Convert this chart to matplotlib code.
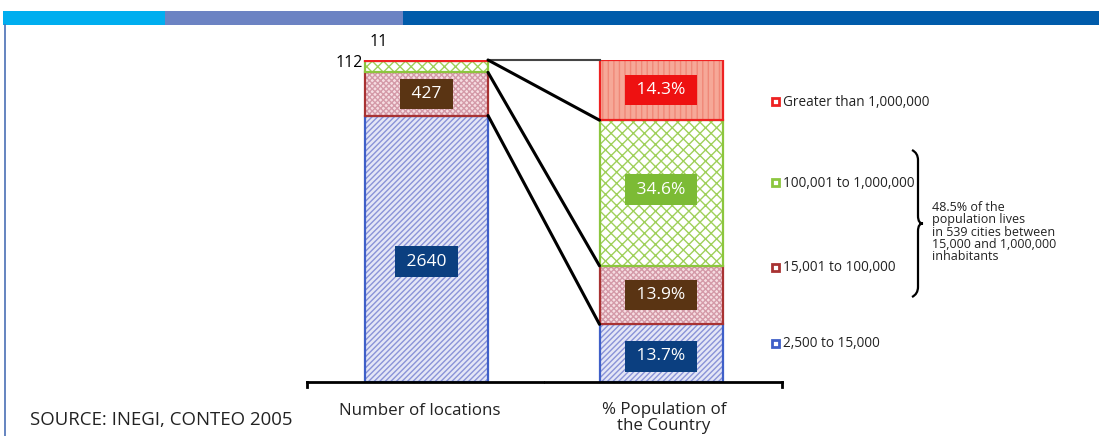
import matplotlib
matplotlib.use("Agg")
import matplotlib.pyplot as plt
from matplotlib.patches import Rectangle, PathPatch
from matplotlib.path import Path
import numpy as np

plt.rcParams["font.family"] = ["Open Sans", "DejaVu Sans"]
plt.rcParams["hatch.linewidth"] = 1.0

# ── Data (bottom to top) ──────────────────────────────────────────────
categories  = ["2,500 to 15,000", "15,001 to 100,000",
               "100,001 to 1,000,000", "Greater than 1,000,000"]
n_locations = [2640, 427, 112, 11]
pct_pop     = [13.7, 13.9, 34.6, 14.3]
pct_labels  = ["13.7%", "13.9%", "34.6%", "14.3%"]
bar_names   = ["Number of locations", "% Population of\nthe Country"]

# ── Styles ────────────────────────────────────────────────────────────
fills   = ["#e4e6f6", "#f6dde2", "#ffffff", "#f6a898"]
hcols   = ["#8a93d8", "#d49aa8", "#9fd05a", "#f08878"]
edges   = ["#3f5fc8", "#a83232", "#8cc63f", "#ee2222"]
hatches = ["//////", "xxxxxx", "xxx", "|||"]
boxcols = ["#0b3f80", "#5a3413", "#7cbb35", "#ee1111"]

W, H = 1099, 436
fig = plt.figure(figsize=(W / 100, H / 100), dpi=100)

def fx(px): return px / W
def fy(py): return 1 - py / H

# top colour band and left rule
for x0, x1, c in [(3, 165, "#00aeef"), (165, 403, "#6c83c3"), (403, 1099, "#005baa")]:
    fig.add_artist(Rectangle((fx(x0), fy(25)), fx(x1 - x0), 14 / H,
                             transform=fig.transFigure, color=c, lw=0))
fig.add_artist(plt.Line2D([fx(4.5), fx(4.5)], [fy(25), 0], transform=fig.transFigure,
                          color="#4a6fb5", lw=1.2))

# axes covering px 300..800 horizontally, 60..382 vertically
ax = fig.add_axes([fx(300), fy(382), fx(500), (382 - 60) / H])
ax.set_xlim((300 - 426.5) / 234.5, (800 - 426.5) / 234.5)
ax.set_ylim(0, 1)
ax.axis("off")

bw = 123 / 234.5
left_frac  = np.array(n_locations) / sum(n_locations)
right_frac = np.array(pct_pop) / sum(pct_pop)
left_cum   = np.concatenate([[0], np.cumsum(left_frac)])
right_cum  = np.concatenate([[0], np.cumsum(right_frac)])

for i in range(len(categories)):
    for xc, fr, cum in [(0, left_frac, left_cum), (1, right_frac, right_cum)]:
        ax.bar(xc, fr[i], bw, bottom=cum[i], color=fills[i], edgecolor=hcols[i],
               hatch=hatches[i], lw=0)
        ax.bar(xc, fr[i], bw, bottom=cum[i], fill=False, edgecolor=edges[i], lw=1.6)

lbl_kw = dict(ha="center", va="center", color="white", fontsize=12.5)
box_kw = dict(boxstyle="square,pad=0.42", ec="none")
left_off  = [-0.04, 0, 0, 0]     # label nudges (axes fraction)
right_off = [-0.01, 0, 0.01, 0]
for i, val in enumerate(n_locations):
    if val > 200:
        ax.text(0, left_cum[i] + left_frac[i] / 2 + left_off[i], f" {val} ",
                bbox=dict(fc=boxcols[i], **box_kw), **lbl_kw)
for i, lab in enumerate(pct_labels):
    ax.text(1, right_cum[i] + right_frac[i] / 2 + right_off[i], f" {lab} ",
            bbox=dict(fc=boxcols[i], **box_kw), **lbl_kw)

# small segment labels
ax.text(-bw / 2 + 0.02, 1.03, str(n_locations[3]), ha="left", va="bottom", fontsize=11.5)
ax.text(-bw / 2 - 0.01, left_cum[2] + 0.005, str(n_locations[2]), ha="right",
        va="bottom", fontsize=11.5)

# connectors
ax.plot([bw / 2, 1 - bw / 2], [1, 1], color="#444444", lw=1.5, clip_on=False)
for k in [3, 2, 1]:
    ax.plot([bw / 2, 1 - bw / 2], [left_cum[k + 1 if k == 3 else k], right_cum[k]],
            color="black", lw=2.2, solid_capstyle="round", clip_on=False)

# baselines
ax.plot([(307 - 426.5) / 234.5, (543 - 426.5) / 234.5], [0, 0], color="black", lw=2, clip_on=False)
ax.plot([(545 - 426.5) / 234.5, (782 - 426.5) / 234.5], [0, 0], color="black", lw=2, clip_on=False)
ax.plot([(307 - 426.5) / 234.5] * 2, [0, -0.015], color="black", lw=2, clip_on=False)
ax.plot([(782 - 426.5) / 234.5] * 2, [0, -0.015], color="black", lw=2, clip_on=False)

# bar names
fig.text(fx(420), fy(411), bar_names[0], ha="center", va="center", fontsize=12.2,
         color="#222222")
fig.text(fx(664), fy(418), bar_names[1], ha="center", va="center", fontsize=12.2,
         linespacing=0.95, color="#222222")

# legend
leg_y = [343, 267, 183, 102]
for i, cat in enumerate(categories):
    fig.add_artist(Rectangle((fx(772), fy(leg_y[i] + 3.5)), fx(7), 7 / H,
                             transform=fig.transFigure, fc="white", ec=edges[i], lw=2))
    fig.text(fx(783), fy(leg_y[i]), cat, ha="left", va="center", fontsize=9.8,
             color="#222222")

# curly brace
bx, yt, yb = 912, 150, 297
ym = (yt + yb) / 2
verts = [(bx, yt), (bx + 6, yt + 3), (bx + 6, yt + 10),
         (bx + 6, ym - 8),
         (bx + 6, ym - 2), (bx + 8, ym), (bx + 11, ym),
         (bx + 8, ym), (bx + 6, ym + 2), (bx + 6, ym + 8),
         (bx + 6, yb - 10),
         (bx + 6, yb - 3), (bx, yb)]
codes = [Path.MOVETO, Path.CURVE3, Path.CURVE3, Path.LINETO,
         Path.CURVE4, Path.CURVE4, Path.CURVE4,
         Path.CURVE4, Path.CURVE4, Path.CURVE4,
         Path.LINETO, Path.CURVE3, Path.CURVE3]
fig.add_artist(PathPatch(Path([(fx(a), fy(b)) for a, b in verts], codes),
                         transform=fig.transFigure, fill=False, lw=1.6, ec="black"))
fig.text(fx(932), fy(232), "48.5% of the\npopulation lives\nin 539 cities between\n"
         "15,000 and 1,000,000\ninhabitants", ha="left", va="center", fontsize=9.0,
         linespacing=0.92, color="#222222")

fig.text(fx(30), fy(420), "SOURCE: INEGI, CONTEO 2005", ha="left", va="center",
         fontsize=13.4, color="#222222")

fig.savefig("out.png", dpi=100)
